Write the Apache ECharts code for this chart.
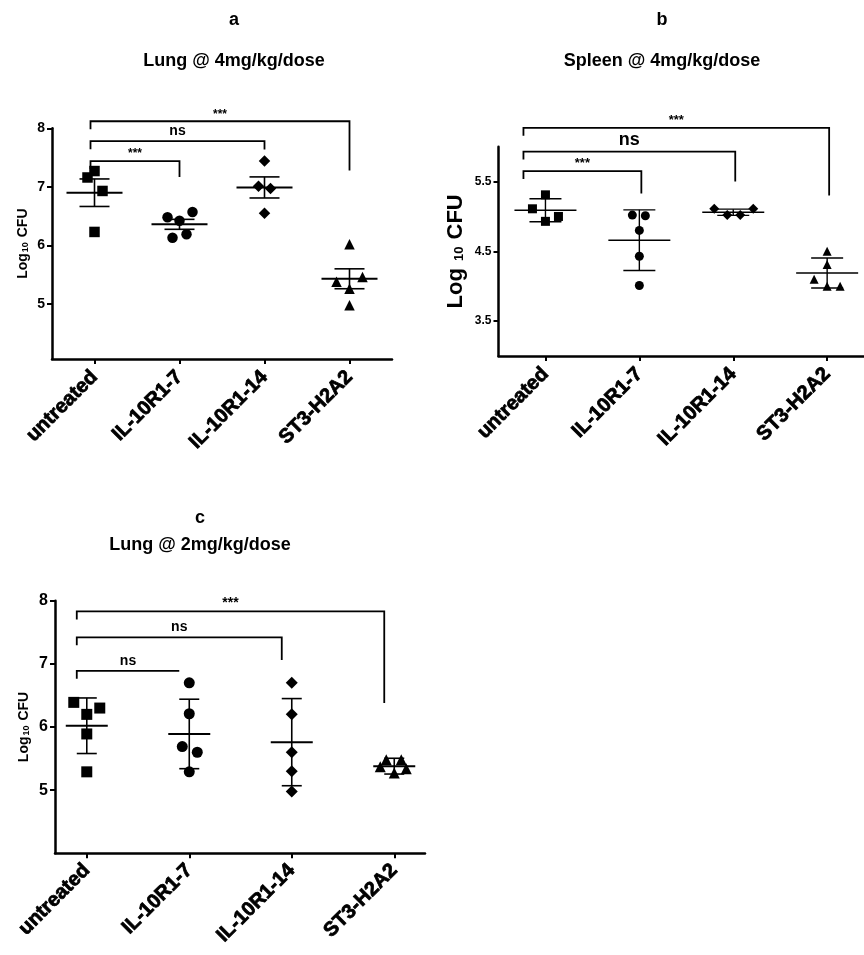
<!DOCTYPE html>
<html>
<head>
<meta charset="utf-8">
<script src="https://cdn.jsdelivr.net/npm/echarts@6/dist/echarts.min.js"></script>
<style>
  html, body { margin: 0; padding: 0; background: #fff; }
  #chart { width: 864px; height: 955px; }
</style>
</head>
<body>
<div id="chart"></div>
<script>
// 组别
const groups = ['untreated', 'IL-10R1-7', 'IL-10R1-14', 'ST3-H2A2'];

// a: Lung @ 4mg/kg/dose
const aUntreated = [7.27, 7.16, 6.93, 6.23];
const aIL7 = [6.48, 6.42, 6.57, 6.13, 6.19];
const aIL14 = [7.44, 7.01, 6.97, 6.55];
const aST3 = [6.02, 5.38, 5.46, 5.26, 4.98];
const aMean = [6.90, 6.36, 6.99, 5.43];
const aErr = [0.235, 0.085, 0.18, 0.17];
const aTicks = [5, 6, 7, 8];
// [from, to, bracket level, right end, label]
const aSig = [[0, 1, 7.44, 7.17, '***'], [0, 2, 7.78, 7.64, 'ns'], [0, 3, 8.12, 7.28, '***']];

// b: Spleen @ 4mg/kg/dose
const bUntreated = [5.31, 5.11, 5.00, 4.93];
const bIL7 = [5.02, 5.01, 4.80, 4.43, 4.01];
const bIL14 = [5.11, 5.11, 5.02, 5.02];
const bST3 = [4.50, 4.31, 4.10, 4.00, 4.00];
const bMean = [5.09, 4.66, 5.06, 4.19];
const bErr = [0.165, 0.435, 0.045, 0.215];
const bTicks = [3.5, 4.5, 5.5];
const bSig = [[0, 1, 5.65, 5.33, '***'], [0, 2, 5.93, 5.50, 'ns'], [0, 3, 6.27, 5.30, '***']];

// c: Lung @ 2mg/kg/dose
const cUntreated = [6.39, 6.30, 6.20, 5.89, 5.29];
const cIL7 = [6.70, 6.21, 5.69, 5.60, 5.29];
const cIL14 = [6.70, 6.20, 5.60, 5.30, 4.98];
const cST3 = [5.48, 5.48, 5.37, 5.27, 5.34];
const cMean = [6.02, 5.89, 5.76, 5.38];
const cErr = [0.44, 0.55, 0.69, 0.125];
const cTicks = [5, 6, 7, 8];
const cSig = [[0, 1, 6.89, 6.89, 'ns'], [0, 2, 7.42, 7.06, 'ns'], [0, 3, 7.83, 6.38, '***']];

// 横向抖动(像素)
const aJitter = [[0, -7, 8, 0], [-12, 0, 13, -7, 7], [0, -6, 6, 0], [0, -13, 13, 0, 0]];
const bJitter = [[0, -13, 13, 0], [-7, 6, 0, 0, 0], [-19, 20, -6, 7], [0, 0, -13, 0, 13]];
const cJitter = [[-13, 13, 0, 0, 0], [0, 0, -7, 8, 0], [0, 0, 0, 0, 0], [-8, 7, -14, 0, 12]];

const FONT = '"Liberation Sans", Arial, sans-serif';
const NARROW = '"Liberation Sans Narrow", "Liberation Sans", Arial, sans-serif';
const symbols = ['rect', 'circle', 'diamond', 'triangle'];

const panels = [
    {
        vals: [aUntreated, aIL7, aIL14, aST3], jitter: aJitter, mean: aMean, err: aErr, sig: aSig, ticks: aTicks,
        grid: { left: 52, top: 128.3, width: 340, height: 230.7 },
        xMin: -0.5, xMax: 3.5, yMin: 4.06, yMax: 8,
        sym: 10.5, meanHW: 28, capHW: 15, meanW: 2, barW: 1.6,
        tickFont: 14, nameFont: 14, subFont: 9, nameGap: 22, bracketW: 1.8,
        offL: -4, offR: 0, starFont: 12, nsFont: 14, labelMargin: 15
    },
    {
        vals: [bUntreated, bIL7, bIL14, bST3], jitter: bJitter, mean: bMean, err: bErr, sig: bSig, ticks: bTicks,
        grid: { left: 498.5, top: 146.7, width: 375.6, height: 209.3 },
        xMin: -0.5, xMax: 3.5, yMin: 3, yMax: 6,
        sym: 9, meanHW: 31, capHW: 16, meanW: 1.6, barW: 1.4,
        tickFont: 12, nameFont: 22, subFont: 13, nameGap: 32, bracketW: 1.8,
        offL: -22, offR: 2, starFont: 13, nsFont: 18, labelMargin: 15
    },
    {
        vals: [cUntreated, cIL7, cIL14, cST3], jitter: cJitter, mean: cMean, err: cErr, sig: cSig, ticks: cTicks,
        grid: { left: 55, top: 600.7, width: 370, height: 252.6 },
        xMin: -0.31, xMax: 3.3, yMin: 4, yMax: 8,
        sym: 11, meanHW: 21, capHW: 10, meanW: 2, barW: 1.6,
        tickFont: 16, nameFont: 14, subFont: 9, nameGap: 24, bracketW: 1.8,
        offL: -10, offR: -10, starFont: 14, nsFont: 14, labelMargin: 14
    }
];

const grids = [], xAxes = [], yAxes = [], series = [];

panels.forEach((p, i) => {
    grids.push(Object.assign({ outerBoundsMode: 'none', containLabel: false }, p.grid));
    xAxes.push({
        type: 'value', gridIndex: i, min: p.xMin, max: p.xMax,
        axisLine: { show: true, onZero: false, lineStyle: { color: '#000', width: 2.5 } },
        axisTick: { show: true, customValues: [0, 1, 2, 3], length: 5, lineStyle: { color: '#000', width: 2 } },
        axisLabel: {
            customValues: [0, 1, 2, 3], rotate: 45, margin: p.labelMargin,
            color: '#000', fontFamily: FONT, fontWeight: 'bold', fontSize: 20,
            textBorderColor: '#000', textBorderWidth: 0.8,
            formatter: v => groups[Math.round(v)] || ''
        },
        splitLine: { show: false }
    });
    yAxes.push({
        type: 'value', gridIndex: i, min: p.yMin, max: p.yMax,
        axisLine: { show: true, onZero: false, lineStyle: { color: '#000', width: 2.5 } },
        axisTick: { show: true, customValues: p.ticks, length: 5, lineStyle: { color: '#000', width: 2 } },
        axisLabel: {
            customValues: p.ticks, margin: 7, color: '#000',
            fontFamily: NARROW, fontWeight: 'bold', fontSize: p.tickFont
        },
        splitLine: { show: false },
        name: i === 1 ? '{m|Log }{s|10}{m| CFU}' : '{m|Log}{s|10}{m| CFU}',
        nameLocation: 'middle', nameGap: p.nameGap, nameRotate: 90,
        nameTextStyle: {
            rich: {
                m: { fontFamily: FONT, fontWeight: 'bold', fontSize: p.nameFont, color: '#000' },
                s: { fontFamily: FONT, fontWeight: 'bold', fontSize: p.subFont, color: '#000', padding: [p.subFont * 0.6, 1, 0, 1] }
            }
        }
    });

    // 散点
    p.vals.forEach((vals, k) => {
        series.push({
            type: 'scatter', xAxisIndex: i, yAxisIndex: i, silent: true, z: 3,
            symbol: symbols[k], symbolSize: k === 2 ? p.sym + 1 : p.sym,
            itemStyle: { color: '#000', opacity: 1 },
            data: vals.map((v, j) => ({ value: [k, v], symbolOffset: [p.jitter[k][j], 0] }))
        });
    });

    // 均值 ± 误差
    series.push({
        type: 'custom', xAxisIndex: i, yAxisIndex: i, silent: true, z: 4,
        encode: { x: 0, y: 1 },
        data: p.mean.map((m, k) => [k, m, p.err[k]]),
        renderItem: (params, api) => {
            const k = api.value(0), m = api.value(1), e = api.value(2);
            const c = api.coord([k, m]), hi = api.coord([k, m + e]), lo = api.coord([k, m - e]);
            const ls = w => ({ stroke: '#000', lineWidth: w });
            return {
                type: 'group', children: [
                    { type: 'line', shape: { x1: c[0] - p.meanHW, y1: c[1], x2: c[0] + p.meanHW, y2: c[1] }, style: ls(p.meanW) },
                    { type: 'line', shape: { x1: c[0], y1: hi[1], x2: c[0], y2: lo[1] }, style: ls(p.barW) },
                    { type: 'line', shape: { x1: c[0] - p.capHW, y1: hi[1], x2: c[0] + p.capHW, y2: hi[1] }, style: ls(p.barW) },
                    { type: 'line', shape: { x1: c[0] - p.capHW, y1: lo[1], x2: c[0] + p.capHW, y2: lo[1] }, style: ls(p.barW) }
                ]
            };
        }
    });

    // 显著性标注
    series.push({
        type: 'custom', xAxisIndex: i, yAxisIndex: i, silent: true, z: 5, clip: false,
        encode: { x: 0, y: 2 },
        data: p.sig.map(s => [s[0], s[1], s[2], s[3]]),
        renderItem: (params, api) => {
            const s = p.sig[params.dataIndex];
            const l = api.coord([s[0], s[2]]), r = api.coord([s[1], s[2]]), re = api.coord([s[1], s[3]]);
            const xl = l[0] + p.offL, xr = r[0] + p.offR, y = l[1];
            const star = s[4] === '***';
            return {
                type: 'group', children: [
                    {
                        type: 'polyline',
                        shape: { points: [[xl, y + 8], [xl, y], [xr, y], [xr, Math.max(re[1], y)]] },
                        style: { stroke: '#000', lineWidth: p.bracketW, fill: null }
                    },
                    {
                        type: 'text',
                        style: {
                            text: s[4], x: (xl + xr) / 2, y: y - (star ? 1 : 3),
                            textAlign: 'center', textVerticalAlign: 'bottom',
                            align: 'center', verticalAlign: 'bottom',
                            font: 'bold ' + (star ? p.starFont : p.nsFont) + 'px ' + FONT, fill: '#000'
                        }
                    }
                ]
            };
        }
    });
});

const titleText = (text, x, y, size) => ({
    type: 'text', x: x, y: y, silent: true,
    style: {
        text: text, font: 'bold ' + size + 'px ' + FONT, fill: '#000',
        textAlign: 'center', textVerticalAlign: 'middle', align: 'center', verticalAlign: 'middle'
    }
});

const chart = echarts.init(document.getElementById('chart'));
chart.setOption({
    animation: false,
    backgroundColor: '#fff',
    grid: grids,
    xAxis: xAxes,
    yAxis: yAxes,
    series: series,
    graphic: [
        titleText('a', 234, 20, 18),
        titleText('Lung @ 4mg/kg/dose', 234, 61, 18),
        titleText('b', 662, 20, 18),
        titleText('Spleen @ 4mg/kg/dose', 662, 61, 18),
        titleText('c', 200, 518, 18),
        titleText('Lung @ 2mg/kg/dose', 200, 545, 18)
    ]
});
window.addEventListener('resize', () => chart.resize());
</script>
</body>
</html>
